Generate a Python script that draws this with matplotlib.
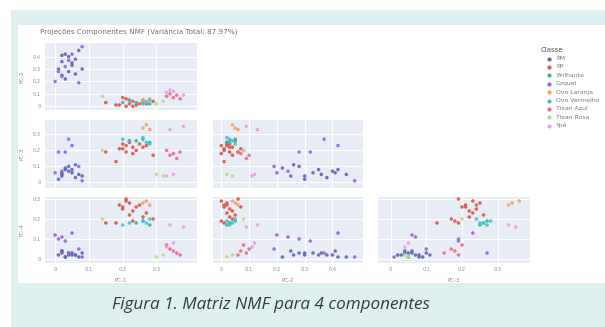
import matplotlib
matplotlib.use("Agg")
import matplotlib.pyplot as plt
from matplotlib.patches import Rectangle
from matplotlib.lines import Line2D

# NMF component scores per class
classes = ["PM", "PP", "Brilhante", "Coquel", "Ovo Laranja",
           "Ovo Vermelho", "Tixan Azul", "Tixan Rosa", "Ypê"]
colors = ["#5f66b8", "#d9584a", "#2fb992", "#9a63d8", "#f0a266",
          "#3cc3d8", "#ec6a8e", "#b5dc8a", "#ef9be8"]

pm_pc1 = [0.01, 0.02, 0.03, 0.02, 0.04, 0.05, 0.03, 0.06, 0.04, 0.07, 0.05, 0.02, 0.08, 0.06]
pm_pc2 = [0.30, 0.36, 0.42, 0.25, 0.40, 0.33, 0.22, 0.38, 0.28, 0.45, 0.35, 0.41, 0.30, 0.26]
pm_pc3 = [0.02, 0.05, 0.08, 0.04, 0.07, 0.06, 0.09, 0.03, 0.10, 0.05, 0.08, 0.06, 0.04, 0.11]
pm_pc4 = [0.02, 0.03, 0.01, 0.04, 0.02, 0.03, 0.01, 0.02, 0.03, 0.01, 0.02, 0.04, 0.03, 0.02]

pp_pc1 = [0.19, 0.20, 0.21, 0.22, 0.23, 0.24, 0.22, 0.25, 0.26, 0.21, 0.23, 0.27, 0.29, 0.20, 0.15, 0.18]
pp_pc2 = [0.01, 0.03, 0.00, 0.02, 0.04, 0.01, 0.05, 0.02, 0.03, 0.06, 0.00, 0.02, 0.04, 0.07, 0.03, 0.01]
pp_pc3 = [0.21, 0.24, 0.23, 0.25, 0.22, 0.20, 0.26, 0.24, 0.22, 0.19, 0.18, 0.23, 0.17, 0.21, 0.19, 0.13]
pp_pc4 = [0.27, 0.25, 0.29, 0.28, 0.24, 0.26, 0.22, 0.27, 0.21, 0.30, 0.19, 0.23, 0.20, 0.26, 0.18, 0.18]

bri_pc1 = [0.24, 0.26, 0.28]
bri_pc2 = [0.03, 0.05, 0.02]
bri_pc3 = [0.26, 0.27, 0.25]
bri_pc4 = [0.18, 0.19, 0.17]

coq_pc1 = [0.00, 0.01, 0.03, 0.05, 0.08, 0.02, 0.04, 0.07]
coq_pc2 = [0.20, 0.28, 0.32, 0.42, 0.48, 0.24, 0.37, 0.19]
coq_pc3 = [0.06, 0.19, 0.19, 0.23, 0.01, 0.07, 0.27, 0.10]
coq_pc4 = [0.12, 0.10, 0.09, 0.13, 0.01, 0.11, 0.03, 0.05]

lar_pc1 = [0.26, 0.27, 0.28]
lar_pc2 = [0.05, 0.04, 0.06]
lar_pc3 = [0.34, 0.36, 0.33]
lar_pc4 = [0.28, 0.29, 0.27]

ver_pc1 = [0.20, 0.22, 0.26, 0.28, 0.27]
ver_pc2 = [0.03, 0.04, 0.02, 0.05, 0.03]
ver_pc3 = [0.27, 0.26, 0.28, 0.24, 0.25]
ver_pc4 = [0.17, 0.18, 0.19, 0.20, 0.18]

taz_pc1 = [0.33, 0.34, 0.35, 0.36, 0.37]
taz_pc2 = [0.08, 0.10, 0.07, 0.09, 0.06]
taz_pc3 = [0.20, 0.17, 0.18, 0.15, 0.19]
taz_pc4 = [0.07, 0.05, 0.04, 0.03, 0.02]

tro_pc1 = [0.30, 0.32, 0.14]
tro_pc2 = [0.02, 0.04, 0.08]
tro_pc3 = [0.05, 0.04, 0.20]
tro_pc4 = [0.01, 0.02, 0.20]

ype_pc1 = [0.33, 0.35, 0.34, 0.38]
ype_pc2 = [0.11, 0.12, 0.13, 0.09]
ype_pc3 = [0.04, 0.05, 0.33, 0.35]
ype_pc4 = [0.06, 0.08, 0.17, 0.16]

series = [
    (pm_pc1, pm_pc2, pm_pc3, pm_pc4),
    (pp_pc1, pp_pc2, pp_pc3, pp_pc4),
    (bri_pc1, bri_pc2, bri_pc3, bri_pc4),
    (coq_pc1, coq_pc2, coq_pc3, coq_pc4),
    (lar_pc1, lar_pc2, lar_pc3, lar_pc4),
    (ver_pc1, ver_pc2, ver_pc3, ver_pc4),
    (taz_pc1, taz_pc2, taz_pc3, taz_pc4),
    (tro_pc1, tro_pc2, tro_pc3, tro_pc4),
    (ype_pc1, ype_pc2, ype_pc3, ype_pc4),
]

comp_names = ["PC-1", "PC-2", "PC-3", "PC-4"]
comp_ticks = [[0, 0.1, 0.2, 0.3], [0, 0.1, 0.2, 0.3, 0.4],
              [0, 0.1, 0.2, 0.3], [0, 0.1, 0.2, 0.3]]
comp_range = [(-0.03, 0.42), (-0.03, 0.51), (-0.035, 0.39), (-0.02, 0.31)]

title = "Projeções Componentes NMF (Variância Total: 87.97%)"
caption = "Figura 1. Matriz NMF para 4 componentes"

W, H = 605, 327
fig = plt.figure(figsize=(W / 100, H / 100), dpi=100)
fig.patch.set_facecolor("white")


def px_rect(x0, y0, x1, y1):
    return [x0 / W, (H - y1) / H, (x1 - x0) / W, (y1 - y0) / H]


# framed backdrop and white plotting card
bg = px_rect(11, 10, 610, 330)
fig.patches.append(Rectangle((bg[0], bg[1]), bg[2], bg[3], transform=fig.transFigure,
                             facecolor="#ddefef", edgecolor="none", zorder=-10))
card = px_rect(18, 25, 610, 283)
fig.patches.append(Rectangle((card[0], card[1]), card[2], card[3], transform=fig.transFigure,
                             facecolor="white", edgecolor="none", zorder=-9))

col_px = [(45, 197), (213, 363), (378, 530)]
row_px = [(43, 110), (120, 188), (197, 263)]

tick_color = "#8a8a8a"
fmt = lambda v: "0" if v == 0 else f"{v:g}"
for r in range(3):
    yi = r + 1
    for c in range(r + 1):
        xi = c
        ax = fig.add_axes(px_rect(col_px[c][0], row_px[r][0], col_px[c][1], row_px[r][1]))
        ax.set_facecolor("#e8ecf5")
        for s in ax.spines.values():
            s.set_visible(False)
        for cls_data, col in zip(series, colors):
            ax.scatter(cls_data[xi], cls_data[yi], s=6.5, color=col, alpha=0.9,
                       edgecolors="none", zorder=3)
        ax.set_xlim(*comp_range[xi])
        ax.set_ylim(*comp_range[yi])
        ax.set_xticks(comp_ticks[xi])
        ax.set_yticks(comp_ticks[yi])
        ax.grid(True, color="white", linewidth=0.7)
        ax.set_axisbelow(True)
        ax.tick_params(length=0, labelsize=3.6, labelcolor=tick_color, pad=3)
        if r == 2:
            ax.set_xticklabels([fmt(v) for v in comp_ticks[xi]])
            ax.set_xlabel(comp_names[xi], fontsize=4.0, color=tick_color, labelpad=4)
        else:
            ax.set_xticklabels([])
        if c == 0:
            ax.set_yticklabels([fmt(v) for v in comp_ticks[yi]])
            ax.set_ylabel(comp_names[yi], fontsize=4.0, color=tick_color, labelpad=6)
        else:
            ax.set_yticklabels([])

fig.text(40 / W, 1 - 32 / H, title, fontsize=5.2, color="#707070", va="center", ha="left")

# legend
fig.text(541 / W, 1 - 50 / H, "Classe", fontsize=5.0, color="#555555", va="center", ha="left")
for i, (name, col) in enumerate(zip(classes, colors)):
    yy = 1 - (58.5 + i * 8.4) / H
    fig.lines.append(Line2D([549 / W], [yy], transform=fig.transFigure, marker="o",
                            markersize=2.0, color=col, linestyle="none"))
    fig.text(556 / W, yy, name, fontsize=4.4, color="#777777", va="center", ha="left")

fig.text(271 / W, 1 - 305 / H, caption, fontsize=12.3, style="italic", color="#3a3a3a",
         ha="center", va="center", family=["Open Sans", "DejaVu Sans"])

fig.savefig("out.png", dpi=100, facecolor=fig.get_facecolor())
